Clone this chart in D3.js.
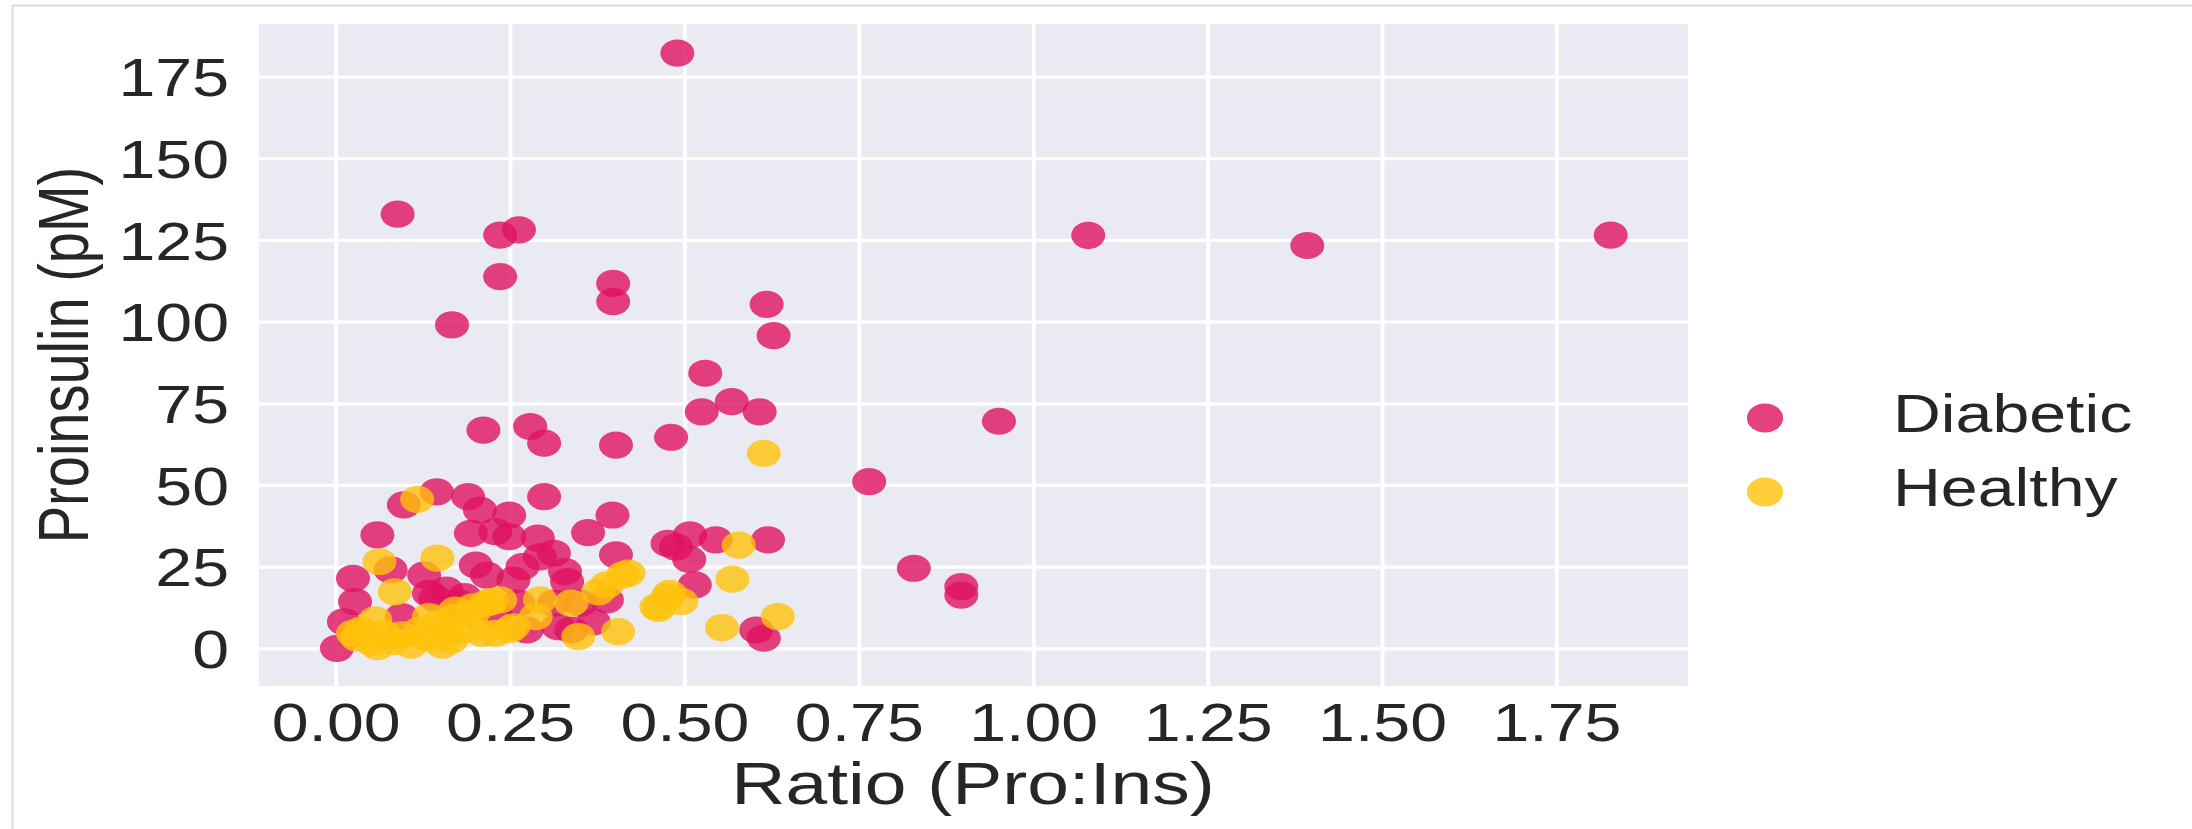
<!DOCTYPE html>
<html>
<head>
<meta charset="utf-8">
<script src="https://cdn.jsdelivr.net/npm/d3@7"></script>
<style>
  html, body { margin: 0; padding: 0; background: #ffffff; }
  svg { display: block; }
  text { font-family: "Liberation Sans", Arial, Helvetica, sans-serif; fill: #262626; }
</style>
</head>
<body>
<svg id="chart" width="2192" height="829"></svg>
<script>
// Proinsulin concentration against the proinsulin:insulin ratio, by group.
const groups = ["Diabetic", "Healthy"];
const groupColors = ["#E0115F", "#FFC20A"];

const xTicks = [0.00, 0.25, 0.50, 0.75, 1.00, 1.25, 1.50, 1.75];
const yTicks = [0, 25, 50, 75, 100, 125, 150, 175];

const xLabel = "Ratio (Pro:Ins)";
const yLabel = "Proinsulin (pM)";

// [ratio, proinsulin pM]
const diabetic = [
  [0.490, 182.2], [0.089, 132.9], [0.236, 126.5], [0.263, 128.1], [0.236, 113.8],
  [0.398, 111.7], [0.398, 106.1], [0.167, 99.0], [0.618, 105.3], [0.628, 95.7],
  [1.079, 126.4], [1.393, 123.3], [1.828, 126.5], [0.530, 84.2], [0.568, 75.5],
  [0.525, 72.4], [0.608, 72.4], [0.951, 69.5], [0.481, 64.6], [0.765, 51.0],
  [0.829, 24.5], [0.897, 18.9], [0.897, 16.3],
  [0.476, 32.1], [0.508, 34.7], [0.545, 33.2], [0.620, 33.2], [0.507, 27.2],
  [0.515, 19.4], [0.603, 5.6], [0.614, 3.1], [0.488, 31.0],
  [0.212, 66.8], [0.279, 67.9], [0.299, 62.8], [0.402, 62.2], [0.145, 47.9],
  [0.098, 43.9], [0.190, 46.4], [0.207, 42.3], [0.249, 40.8], [0.299, 46.4],
  [0.397, 40.8], [0.362, 35.4], [0.060, 34.7], [0.194, 35.2], [0.229, 35.7],
  [0.249, 34.2], [0.290, 33.7], [0.402, 28.6], [0.313, 29.1], [0.201, 25.5],
  [0.268, 25.0], [0.293, 28.0], [0.329, 23.5], [0.217, 22.4], [0.127, 22.4],
  [0.025, 21.4], [0.079, 24.0], [0.255, 20.9], [0.332, 20.4], [0.389, 14.8],
  [0.028, 14.3], [0.143, 15.3], [0.185, 15.8], [0.012, 8.1], [0.370, 8.1],
  [0.338, 5.6], [0.274, 5.6], [0.002, 0.0], [0.095, 9.7], [0.262, 13.8],
  [0.313, 13.8], [0.351, 13.8], [0.134, 16.8], [0.159, 17.8], [0.178, 13.8],
  [0.229, 10.7], [0.319, 6.6]
];

const healthy = [
  [0.614, 59.7], [0.578, 31.6], [0.569, 21.2], [0.476, 15.8], [0.463, 12.2],
  [0.496, 14.3], [0.554, 6.3], [0.634, 9.7],
  [0.117, 45.6], [0.063, 26.5], [0.146, 27.6], [0.085, 17.3], [0.412, 22.4],
  [0.420, 23.0], [0.389, 19.4], [0.377, 17.3], [0.460, 12.7], [0.479, 16.8],
  [0.405, 5.1], [0.348, 3.6], [0.293, 14.8], [0.338, 13.8], [0.287, 9.7],
  [0.249, 5.6], [0.229, 4.6], [0.223, 14.3], [0.197, 12.7], [0.172, 11.7],
  [0.031, 3.1], [0.050, 2.0], [0.060, 0.5], [0.069, 4.6], [0.082, 2.0],
  [0.095, 4.1], [0.108, 1.0], [0.121, 5.6], [0.130, 3.1], [0.146, 7.6],
  [0.153, 1.0], [0.159, 4.6], [0.172, 9.7], [0.185, 5.6], [0.197, 10.7],
  [0.217, 13.8], [0.236, 14.8], [0.037, 5.6], [0.057, 8.7], [0.210, 4.6],
  [0.255, 6.6], [0.134, 9.7], [0.025, 4.6], [0.166, 2.5]
];

const series = [diabetic, healthy];

// The figure is drawn in a frame that is widened horizontally.
const SX = 1.25;
const px = v => v / SX;

const plot = { left: px(259), right: px(1688), top: 24, bottom: 686 };

const svg = d3.select("#chart");

// thin frame line along the top and left edges
svg.append("path")
  .attr("d", "M12.5,829 V5.5 H2192")
  .attr("fill", "none")
  .attr("stroke", "#dcdcdc")
  .attr("stroke-width", 2);

const root = svg.append("g").attr("transform", `scale(${SX},1)`);

const x = d3.scaleLinear().domain([-0.1097, 1.9388]).range([plot.left, plot.right]);
const y = d3.scaleLinear().domain([-11.54, 191.1]).range([plot.bottom, plot.top]);

// plot background
root.append("rect")
  .attr("x", plot.left).attr("y", plot.top)
  .attr("width", plot.right - plot.left).attr("height", plot.bottom - plot.top)
  .attr("fill", "#EAEAF2");

// grid
const xAxis = d3.axisBottom(x).tickValues(xTicks)
  .tickSize(-(plot.bottom - plot.top)).tickFormat(d3.format(".2f")).tickPadding(0);
const yAxis = d3.axisLeft(y).tickValues(yTicks)
  .tickSize(-(plot.right - plot.left)).tickFormat(d3.format("d")).tickPadding(0);

const gx = root.append("g").attr("transform", `translate(0,${plot.bottom})`).call(xAxis);
const gy = root.append("g").attr("transform", `translate(${plot.left},0)`).call(yAxis);

[gx, gy].forEach(g => {
  g.select(".domain").remove();
  g.selectAll(".tick line").attr("stroke", "#ffffff").attr("stroke-width", 3.2);
  g.selectAll(".tick text").attr("fill", "#262626")
    .style("font-family", '"Liberation Sans", Arial, sans-serif')
    .style("font-size", "53px");
});
gx.selectAll(".tick text").attr("y", 741 - plot.bottom).attr("dy", 0);
gy.selectAll(".tick text").attr("x", px(229) - plot.left).attr("dy", "0.36em");

// points
const marks = root.append("g");
series.forEach((pts, i) => {
  marks.append("g").selectAll("circle")
    .data(pts)
    .join("circle")
    .attr("cx", d => x(d[0]))
    .attr("cy", d => y(d[1]))
    .attr("r", 13.6)
    .attr("fill", groupColors[i])
    .attr("fill-opacity", 0.8);
});

// axis titles
root.append("text")
  .attr("x", px(973)).attr("y", 804)
  .attr("text-anchor", "middle")
  .style("font-size", "60px")
  .text(xLabel);

root.append("text")
  .attr("transform", `translate(${px(88)},355) rotate(-90)`)
  .attr("text-anchor", "middle")
  .style("font-size", "56px")
  .text(yLabel);

// legend
const legend = root.append("g");
const legendY = [418, 492];
groups.forEach((name, i) => {
  legend.append("circle")
    .attr("cx", px(1765)).attr("cy", legendY[i])
    .attr("r", 14.5)
    .attr("fill", groupColors[i])
    .attr("fill-opacity", 0.8);
  legend.append("text")
    .attr("x", px(1893)).attr("y", legendY[i] + 13.7)
    .style("font-size", "53px")
    .text(name);
});
</script>
</body>
</html>
